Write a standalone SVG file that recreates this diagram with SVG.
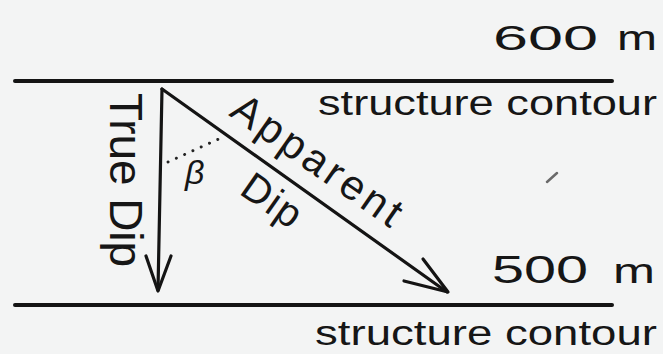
<svg xmlns="http://www.w3.org/2000/svg" width="663" height="354" viewBox="0 0 663 354">
  <style>
    .lbl { font-family: "Liberation Sans", "DejaVu Sans", sans-serif; fill: #161616; }
    .contour { stroke: #141414; stroke-width: 4; stroke-linecap: round; fill: none; }
    .arrow { stroke: #141414; stroke-width: 3.2; stroke-linecap: round; stroke-linejoin: round; fill: none; }
  </style>
  <rect width="663" height="354" fill="#f3f4f4"/>

  <g id="contour-600">
    <line class="contour" x1="15" y1="81" x2="612" y2="81"/>
    <text class="lbl" x="493" y="50" font-size="35" textLength="105" lengthAdjust="spacingAndGlyphs">600</text>
    <text class="lbl" x="617" y="50" font-size="35" textLength="40" lengthAdjust="spacingAndGlyphs">m</text>
    <text class="lbl" x="318" y="115" font-size="35" textLength="339" lengthAdjust="spacingAndGlyphs">structure contour</text>
  </g>

  <g id="contour-500">
    <line class="contour" x1="15" y1="305" x2="612" y2="305"/>
    <text class="lbl" x="492" y="283" font-size="38" textLength="96" lengthAdjust="spacingAndGlyphs">500</text>
    <text class="lbl" x="613" y="283" font-size="35" textLength="42" lengthAdjust="spacingAndGlyphs">m</text>
    <text class="lbl" x="315" y="345" font-size="35" textLength="342" lengthAdjust="spacingAndGlyphs">structure contour</text>
  </g>

  <g id="connectors">
    <g id="true-dip-arrow">
      <path class="arrow" d="M162,89 L158,290"/>
      <path class="arrow" d="M146,256 L158,291 L171,256"/>
    </g>
    <g id="apparent-dip-arrow">
      <path class="arrow" d="M162,89 L447,292"/>
      <path class="arrow" d="M423,259 L448,292 L404,281"/>
    </g>
    <path id="angle-dots" d="M168,162 L221,138" stroke="#222" stroke-width="3" stroke-linecap="round" stroke-dasharray="0.1 9" fill="none"/>
  </g>

  <g id="true-dip-label">
    <text class="lbl" font-size="46" textLength="174" transform="translate(110,93) rotate(90)">True Dip</text>
  </g>

  <g id="apparent-dip-label">
    <text class="lbl" font-size="42" textLength="198" transform="translate(228,115) rotate(35)">Apparent</text>
    <text class="lbl" font-size="40" textLength="64" transform="translate(238,193) rotate(35)">Dip</text>
  </g>

  <g id="beta-label">
    <text class="lbl" x="185" y="184" font-size="34" font-style="italic">β</text>
  </g>

  <line x1="547" y1="182" x2="557" y2="173" stroke="#6a6a6a" stroke-width="2.5" stroke-linecap="round"/>
</svg>
